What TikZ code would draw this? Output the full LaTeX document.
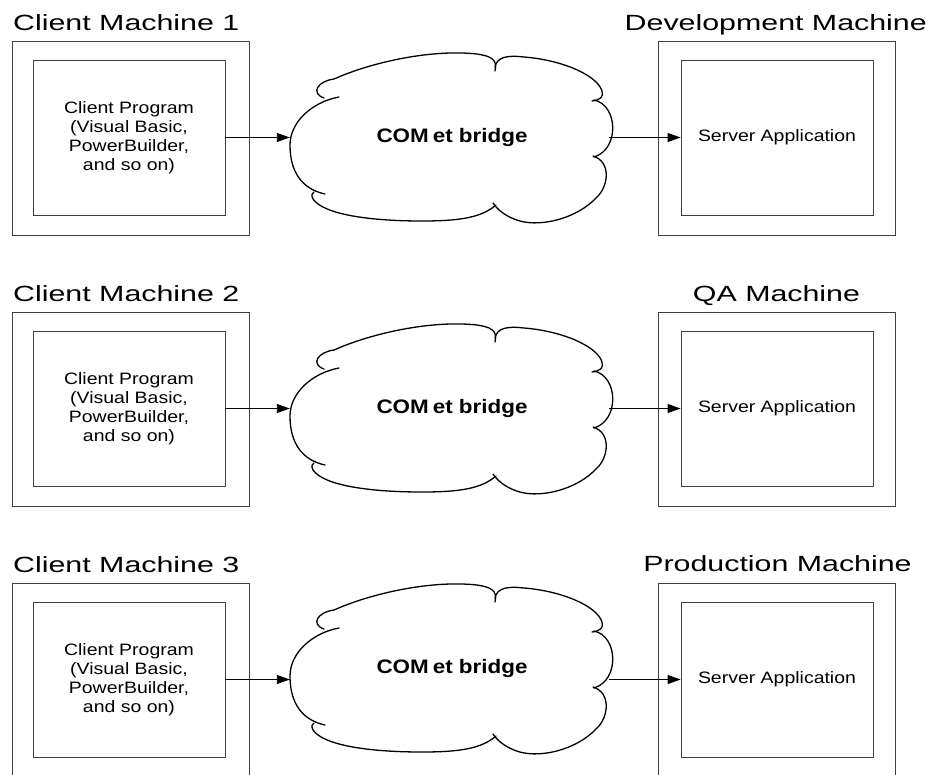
\documentclass[tikz,border=0pt]{standalone}
\usepackage{fontspec}
\setmainfont{Liberation Sans}
\newfontfamily\ttlfont[FakeStretch=1.38]{Liberation Sans}
\newfontfamily\bodyfont[FakeStretch=1.18]{Liberation Sans}
\newfontfamily\cloudfont[FakeStretch=1.15]{Liberation Sans Bold}
\usetikzlibrary{arrows.meta}
\tikzset{
  boxline/.style={draw=black!75, line width=0.9pt},
  outerbox/.style={boxline, minimum width=237pt, minimum height=194pt, inner sep=0pt},
  innerbox/.style={boxline, minimum width=192pt, minimum height=155pt, inner sep=0pt, align=center,
    font=\bodyfont\fontsize{16.5}{19}\selectfont},
  titletext/.style={inner sep=0pt, font=\ttlfont\fontsize{22}{26}\selectfont},
  cloudtext/.style={minimum width=324pt, minimum height=170pt, inner sep=0pt,
    font=\cloudfont\fontsize{19.5}{23}\selectfont},
  cloudline/.style={draw=black, line width=1.3pt, line cap=round},
  arr/.style={draw=black, line width=0.9pt, -{Triangle[length=13pt,width=9pt]}}
}
\newcommand\drawcloud[1]{%
  \begin{scope}[shift={(#1.center)}]
    % left lobe
    \draw[cloudline] (-113,-40) .. controls (-140,-35) and (-162,-15) .. (-162,8)
      .. controls (-162,35) and (-150,52) .. (-127,57);
    % top-left curl and top arc
    \draw[cloudline] (-128,-39) .. controls (-142,-44) and (-134,-56) .. (-118,-58)
      .. controls (-80,-75) and (-20,-88) .. (25,-83)
      .. controls (38,-81) and (46,-78) .. (43,-66);
    % top-right lobe
    \draw[cloudline] (43,-70) .. controls (45,-80) and (55,-82) .. (72,-80)
      .. controls (110,-77) and (145,-62) .. (150,-46)
      .. controls (152,-40) and (148,-37) .. (140,-36);
    % right lobe
    \draw[cloudline] (142,-37) .. controls (166,-32) and (168,12) .. (142,20);
    % lower right lobe
    \draw[cloudline] (141,19) .. controls (160,25) and (156,50) .. (145,60)
      .. controls (125,82) and (85,92) .. (62,82)
      .. controls (52,78) and (45,72) .. (41,66);
    % bottom-left lobe
    \draw[cloudline] (44,68) .. controls (30,80) and (10,84) .. (-30,84)
      .. controls (-80,84) and (-128,78) .. (-139,62)
      .. controls (-141,58) and (-140,56) .. (-138,55);
  \end{scope}}
\begin{document}
\begin{tikzpicture}[x=1pt,y=-1pt]
\useasboundingbox (0,0) rectangle (933,774);
\fill[white] (0,0) rectangle (933,774);

% ---------- row 1 ----------
\node[titletext, anchor=base west] (t1) at (13,30) {Client Machine 1};
\node[titletext, anchor=base east] (d1) at (927,30) {Development Machine};
\node[outerbox] (co1) at (130.5,138) {};
\node[innerbox] (cp1) at (129,137.5) {Client Program\\(Visual Basic,\\PowerBuilder,\\and so on)};
\node[outerbox] (so1) at (776.5,138) {};
\node[innerbox] (sa1) at (777,137.5) {Server Application};
\node[cloudtext] (cb1) at (452,137) {COM\kern4pt et bridge};
\drawcloud{cb1}
\draw[arr] (cp1.east) -- (cp1.east -| cb1.west);
\draw[arr, shorten <=-5pt] (cb1.east |- sa1.west) -- (sa1.west);

% ---------- row 2 ----------
\node[titletext, anchor=base west] (t2) at (13,301) {Client Machine 2};
\node[titletext, anchor=base] (d2) at (776.5,301) {QA Machine};
\node[outerbox] (co2) at (130.5,409) {};
\node[innerbox] (cp2) at (129,408.5) {Client Program\\(Visual Basic,\\PowerBuilder,\\and so on)};
\node[outerbox] (so2) at (776.5,409) {};
\node[innerbox] (sa2) at (777,408.5) {Server Application};
\node[cloudtext] (cb2) at (452,408) {COM\kern4pt et bridge};
\drawcloud{cb2}
\draw[arr] (cp2.east) -- (cp2.east -| cb2.west);
\draw[arr, shorten <=-5pt] (cb2.east |- sa2.west) -- (sa2.west);

% ---------- row 3 ----------
\node[titletext, anchor=base west] (t3) at (13,572) {Client Machine 3};
\node[titletext, anchor=base] (d3) at (777.5,571) {Production Machine};
\node[outerbox] (co3) at (130.5,680) {};
\node[innerbox] (cp3) at (129,679.5) {Client Program\\(Visual Basic,\\PowerBuilder,\\and so on)};
\node[outerbox] (so3) at (776.5,680) {};
\node[innerbox] (sa3) at (777,679.5) {Server Application};
\node[cloudtext] (cb3) at (452,668) {COM\kern4pt et bridge};
\drawcloud{cb3}
\draw[arr] (cp3.east) -- (cp3.east -| cb3.west);
\draw[arr, shorten <=-5pt] (cb3.east |- sa3.west) -- (sa3.west);
\end{tikzpicture}
\end{document}
